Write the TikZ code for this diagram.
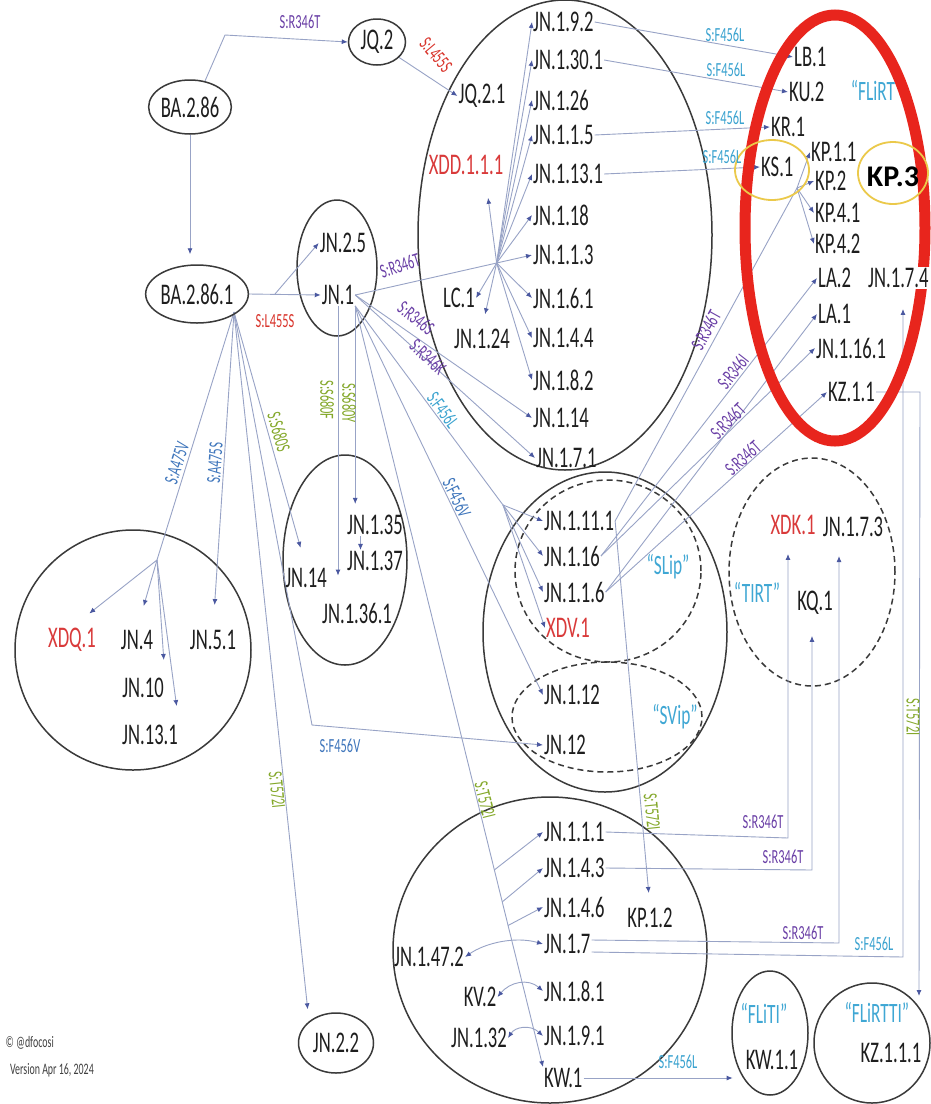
\documentclass[tikz,border=0pt]{standalone}
\usepackage{fontspec}
\newfontfamily\cf{Carlito}[FakeStretch=0.62]
\newfontfamily\kpfont{Carlito}
\usetikzlibrary{arrows.meta,calc,shapes.geometric}
\pgfdeclarelayer{bg}
\pgfdeclarelayer{mid}
\pgfsetlayers{bg,mid,main}

\definecolor{ink}{HTML}{1E1E1E}
\definecolor{ringc}{HTML}{3A3A3A}
\definecolor{linec}{HTML}{98A3C6}
\definecolor{tipc}{HTML}{4A58A0}
\definecolor{redtx}{HTML}{D93A3A}
\definecolor{cyantx}{HTML}{3FA7D4}
\definecolor{purp}{HTML}{6A3FA6}
\definecolor{mred}{HTML}{D9342B}
\definecolor{mcyan}{HTML}{3BA3D0}
\definecolor{mblue}{HTML}{3F76BC}
\definecolor{mgreen}{HTML}{84A82A}
\definecolor{flred}{HTML}{E8251D}
\definecolor{yel}{HTML}{EBC94A}

\newcommand\nfont{\cf\fontsize{30}{32}\selectfont}
\newcommand\mfont{\cf\fontsize{20}{22}\selectfont}
\newcommand\qfont{\cf\fontsize{28}{30}\selectfont}
\newcommand\crfont{\cf\fontsize{16}{18}\selectfont}

\begin{document}
\begin{tikzpicture}[x=1pt,y=-1pt,
  lab/.style={font=\nfont, text=ink, inner sep=1pt},
  wlab/.style={lab, anchor=west},
  rlab/.style={lab, text=redtx},
  qlab/.style={font=\qfont, text=cyantx, inner sep=1pt},
  mut/.style={font=\mfont, inner sep=0.5pt},
  ring/.style={draw=ringc, line width=1.5pt},
  dring/.style={ring, dash pattern=on 6pt off 4pt},
  oval/.style={ellipse, draw=ringc, line width=1.5pt, font=\nfont, text=ink, inner sep=0pt},
  conn/.style={draw=linec, line width=0.9pt, -{Latex[length=6pt,width=5pt,color=tipc]}},
  plain/.style={draw=linec, line width=0.9pt},
  both/.style={draw=linec, line width=0.9pt, {Latex[length=6pt,width=5pt,color=tipc]}-{Latex[length=6pt,width=5pt,color=tipc]}}]

\useasboundingbox (0,0) rectangle (930,1104);

% ---------- lineage labels ----------
\node[oval, minimum width=78pt, minimum height=54pt] (ba286) at (190,107) {BA.2.86};
\node[oval, minimum width=57pt, minimum height=46pt] (jq2) at (377,42) {JQ.2};
\node[oval, minimum width=88pt, minimum height=58pt] (ba2861) at (197,294) {BA.2.86.1};
\node[oval, minimum width=75pt, minimum height=60pt] (jn22) at (336,1043) {JN.2.2};

\node[lab] (jn25) at (343,243) {JN.2.5};
\node[lab] (jn1) at (338,295) {JN.1};

% JN.1 large group
\node[lab] (jq21) at (482,96) {JQ.2.1};
\node[rlab] (xdd) at (466,165) {XDD.1.1.1};
\node[lab] (lc1) at (459,298) {LC.1};
\node[lab] (jn124) at (482,339) {JN.1.24};
\node[wlab] (jn192) at (532,22) {JN.1.9.2};
\node[wlab] (jn1301) at (532,60) {JN.1.30.1};
\node[wlab] (jn126) at (532,100) {JN.1.26};
\node[wlab] (jn115) at (532,135) {JN.1.1.5};
\node[wlab] (jn1131) at (532,174) {JN.1.13.1};
\node[wlab] (jn118) at (532,215) {JN.1.18};
\node[wlab] (jn113) at (532,255) {JN.1.1.3};
\node[wlab] (jn161) at (532,298) {JN.1.6.1};
\node[wlab] (jn144) at (532,338) {JN.1.4.4};
\node[wlab] (jn182) at (532,380) {JN.1.8.2};
\node[wlab] (jn114) at (532,418) {JN.1.14};
\node[wlab] (jn171) at (535,458) {JN.1.7.1};

% FLiRT column
\node[wlab] (lb1) at (793,57) {LB.1};
\node[wlab] (ku2) at (788,92) {KU.2};
\node[qlab] (flirt) at (873,90) {“FLiRT};
\node[wlab] (kr1) at (770,127) {KR.1};
\node[wlab] (ks1) at (760,167) {KS.1};
\node[wlab] (kp11) at (810,152) {KP.1.1};
\node[wlab] (kp2) at (814,181) {KP.2};
\node[font={\kpfont\bfseries\fontsize{30}{32}\selectfont}, text=black, inner sep=1pt] (kp3) at (893,177) {KP.3};
\node[wlab] (kp41) at (814,213) {KP.4.1};
\node[wlab] (kp42) at (814,244) {KP.4.2};
\node[wlab] (la2) at (817,278) {LA.2};
\node[wlab, fill=white, inner sep=1pt] (jn174) at (867,278) {JN.1.7.4};
\node[wlab] (la1) at (817,314) {LA.1};
\node[wlab] (jn1161) at (815,348) {JN.1.16.1};
\node[wlab] (kz11) at (827,392) {KZ.1.1};

% left group
\node[rlab] (xdq1) at (72,640) {XDQ.1};
\node[lab] (jn4) at (137,640) {JN.4};
\node[lab] (jn51) at (213,640) {JN.5.1};
\node[lab] (jn10) at (143,688) {JN.10};
\node[lab] (jn131) at (150,735) {JN.13.1};

% JN.14 group
\node[lab] (jn135) at (375,525) {JN.1.35};
\node[lab] (jn137) at (375,561) {JN.1.37};
\node[lab] (jn14) at (306,578) {JN.14};
\node[lab] (jn1361) at (357,613) {JN.1.36.1};

% SLip / SVip group
\node[wlab] (jn1111) at (543,521) {JN.1.11.1};
\node[wlab] (jn116) at (543,556) {JN.1.16};
\node[wlab] (jn1d16) at (543,592) {JN.1.1.6};
\node[wlab, text=redtx] (xdv1) at (545,628) {XDV.1};
\node[qlab] (slip) at (668,567) {“SLip”};
\node[wlab] (jn1d12) at (543,695) {JN.1.12};
\node[wlab] (jn12) at (543,745) {JN.12};
\node[qlab] (svip) at (675,717) {“SVip”};

% TIRT group
\node[rlab] (xdk1) at (793,525) {XDK.1};
\node[lab] (jn173) at (853,527) {JN.1.7.3};
\node[qlab] (tirt) at (757,592) {“TIRT”};
\node[lab] (kq1) at (815,603) {KQ.1};

% bottom group
\node[wlab] (jn1d1d1) at (543,832) {JN.1.1.1};
\node[wlab] (jn143) at (543,868) {JN.1.4.3};
\node[wlab] (jn146) at (543,907) {JN.1.4.6};
\node[wlab] (jn17) at (543,944) {JN.1.7};
\node[wlab] (jn181) at (543,991) {JN.1.8.1};
\node[wlab] (jn191) at (543,1036) {JN.1.9.1};
\node[wlab] (kw1) at (543,1078) {KW.1};
\node[lab] (kp12) at (650,918) {KP.1.2};
\node[lab] (jn1472) at (429,957) {JN.1.47.2};
\node[lab] (kv2) at (480,997) {KV.2};
\node[lab] (jn132) at (479,1038) {JN.1.32};

% FLiTI / FLiRTTI
\node[qlab] (fliti) at (764,1013) {“FLiTI”};
\node[lab] (kw11) at (772,1060) {KW.1.1};
\node[qlab] (flirtti) at (877,1012) {“FLiRTTI”};
\node[lab] (kz111) at (891,1053) {KZ.1.1.1};

% credits
\node[font=\crfont, text=ink!85, anchor=east, inner sep=0pt] (cred1) at (54,1043) {© @dfocosi};
\node[font=\crfont, text=ink!85, anchor=east, inner sep=0pt] (cred2) at (94,1070) {Version Apr 16, 2024};

% ---------- mutation labels ----------
\node[mut, text=purp] (m1) at (300,22) {S:R346T};
\node[mut, text=mred, rotate=-50] (m2) at (436,55) {S:L455S};
\node[mut, text=mred] (m3) at (275,321) {S:L455S};
\node[mut, text=purp, rotate=18] (m4) at (400,266) {S:R346T};
\node[mut, text=purp, rotate=-38] (m5) at (416,318) {S:R346S};
\node[mut, text=purp, rotate=-43] (m6) at (428,357) {S:R346K};
\node[mut, text=mcyan, rotate=-53] (m7) at (443,410) {S:F456L};
\node[mut, text=mblue, rotate=-64] (m8) at (457,498) {S:F456V};
\node[mut, text=mgreen, rotate=-90] (m9) at (327,400) {S:S680F};
\node[mut, text=mgreen, rotate=-90] (m10) at (349,403) {S:S680Y};
\node[mut, text=mgreen, rotate=-74] (m11) at (279,432) {S:S680S};
\node[mut, text=mblue, rotate=72] (m12) at (177,463) {S:A475V};
\node[mut, text=mblue, rotate=86] (m13) at (215,463) {S:A475S};
\node[mut, text=mblue] (m14) at (340,746) {S:F456V};
\node[mut, text=mgreen, rotate=-84] (m15) at (277,790) {S:T572I};
\node[mut, text=mgreen, rotate=-76] (m16) at (485,800) {S:T572I};
\node[mut, text=mgreen, rotate=-84] (m17) at (652,812) {S:T572I};
\node[mut, text=mgreen, rotate=-90] (m18) at (913,717) {S:T572I};
\node[mut, text=purp] (m19) at (763,822) {S:R346T};
\node[mut, text=purp] (m20) at (783,857) {S:R346T};
\node[mut, text=purp] (m21) at (803,933) {S:R346T};
\node[mut, text=mcyan] (m22) at (874,944) {S:F456L};
\node[mut, text=mcyan] (m23) at (678,1062) {S:F456L};
\node[mut, text=mcyan] (m24) at (725,35) {S:F456L};
\node[mut, text=mcyan] (m25) at (726,70) {S:F456L};
\node[mut, text=mcyan] (m26) at (725,118) {S:F456L};
\node[mut, text=mcyan] (m27) at (722,157) {S:F456L};
\node[mut, text=purp, rotate=61] (m28) at (706,330) {S:R346T};
\node[mut, text=purp, rotate=52] (m29) at (733,372) {S:R346I};
\node[mut, text=purp, rotate=45] (m30) at (728,421) {S:R346T};
\node[mut, text=purp, rotate=42] (m31) at (743,458) {S:R346T};

% ---------- group outlines and connectors ----------
\begin{pgfonlayer}{bg}
\fill[white] (0,0) rectangle (930,1104);

\draw[ring] (337,268) ellipse [x radius=40pt, y radius=68pt];
\draw[ring] (565,235) ellipse [x radius=147pt, y radius=235pt];
\draw[ring] (133,650) ellipse [x radius=118pt, y radius=120pt];
\draw[ring] (345,560) ellipse [x radius=62pt, y radius=105pt];
\draw[ring] (605,632) ellipse [x radius=122pt, y radius=160pt];
\draw[dring] (608,571) ellipse [x radius=93pt, y radius=91pt];
\draw[dring] (607,717) ellipse [x radius=95pt, y radius=55pt];
\draw[dring] (812,572) ellipse [x radius=83pt, y radius=114pt];
\draw[ring] (550,950) ellipse [x radius=157pt, y radius=153pt];
\draw[ring] (770,1033) ellipse [x radius=38pt, y radius=62pt];
\draw[ring] (872,1043) ellipse [x radius=58pt, y radius=60pt];

% BA.2.86 and JQ.2
\draw[conn, shorten >=10pt] (ba286.south) -- (ba286.south |- ba2861.north);
\coordinate (k1) at (225,35);
\draw[conn] (ba286.60) -- (k1) -- (jq2.west);
\draw[conn] (jq2.-35) -- (jq21.west);

% BA.2.86.1 to JN.1 / JN.2.5
\coordinate (br1) at (275,294);
\draw[conn] (ba2861.east) -- (jn1.west);
\draw[conn] (br1) -- (jn25.west);

% fan below BA.2.86.1
\coordinate (fan) at (234,312);
\coordinate (bA) at (157,560);
\draw[plain] (fan) -- (bA);
\draw[conn, shorten >=22pt] (bA) -- (xdq1.north);
\draw[conn, shorten >=24pt] (bA) -- (jn4.north);
\draw[conn, shorten >=17pt] (bA) -- (jn10.north east);
\draw[conn, shorten >=18pt] (bA) -- (jn131.north east);
\draw[conn, shorten >=24pt] (fan) -- (jn51.north);
\draw[conn, shorten >=20pt] (fan) -- (jn14.north);
\coordinate (kF) at (312,725);
\draw[conn] (fan) -- (kF) -- (jn12.west);
\draw[conn, shorten >=12pt] (fan) -- (jn22.north west);

% JN.1 downwards
\draw[conn, shorten >=26pt] (jn1.south) -- (jn1.south |- jn1361.north);
\draw[conn, shorten >=10pt] (jn1.south east) -- (jn1.south east |- jn135.north);
\draw[conn] ($(jn135.south west)!0.25!(jn135.south east)$) -- ($(jn137.north west)!0.25!(jn137.north east)$);

% JN.1 into the large group through the hub
\draw[conn] (jn1.east) -- (jn113.west);
\coordinate (hub) at ($(jn1.east)!0.8!(jn113.west)$);
\foreach \t in {jn192,jn1301,jn126,jn115,jn1131,jn118,jn161,jn144,jn182}
  \draw[conn] (hub) -- (\t.west);
\draw[conn, shorten >=22pt] (hub) -- ($(xdd.south)!0.5!(xdd.south east)$);
\draw[conn] (hub) -- (lc1.east);
\draw[conn, shorten >=14pt] (hub) -- (jn124.north);
\draw[conn] (jn1.east) -- (jn114.west);
\draw[conn] (jn1.east) -- (jn171.west);

% JN.1 into SLip / SVip
\coordinate (p1) at (503,505);
\draw[plain] (jn1.south east) -- (p1);
\foreach \t in {jn1111,jn116,jn1d16,xdv1}
  \draw[conn] (p1) -- (\t.west);
\draw[conn] (jn1.south east) -- (jn1d12.west);

% JN.1 down to KW.1 with side branches
\draw[conn] (jn1.south east) -- (kw1.north west);
\coordinate (b1) at ($(jn1.south east)!0.741!(kw1.north west)$);
\coordinate (b2) at ($(jn1.south east)!0.783!(kw1.north west)$);
\coordinate (b3) at ($(jn1.south east)!0.814!(kw1.north west)$);
\draw[conn] (b1) -- (jn1d1d1.west);
\draw[conn] (b2) -- (jn143.west);
\draw[conn] (b3) -- (jn146.west);
\draw[both] (jn1472.east) .. controls (485,943) and (515,936) .. (jn17.west);
\draw[both] (kv2.east) .. controls (510,982) and (528,978) .. (jn181.west);
\draw[both] (jn132.east) .. controls (515,1027) and (530,1024) .. (jn191.west);

% F456L steps to the FLiRT column
\draw[conn] (jn192.east) -- (lb1.west);
\draw[conn] (jn1301.east) -- (ku2.west);
\draw[conn] (jn115.east) -- (kr1.west);
\draw[conn] (jn1131.east) -- (ks1.west);

% R346 steps from the SLip group
\coordinate (kh) at (797,188);
\draw[plain] (jn1111.east) -- (kh);
\foreach \t in {kp11,kp2,kp41,kp42}
  \draw[conn] (kh) -- (\t.west);
\draw[conn] (jn116.east) -- (la2.west);
\draw[conn] (jn116.east) -- (jn1161.west);
\draw[conn] (jn1d16.east) -- (la1.west);
\draw[conn] (jn1d16.east) -- (kz11.west);
\draw[conn, shorten >=14pt] (jn1111.east) -- (kp12.north);

% elbows from the bottom group
\coordinate (c111) at (788,838);
\coordinate (c143) at (812,870);
\coordinate (c173) at (839,943);
\coordinate (c174) at (903,957);
\draw[conn, shorten >=18pt] (jn1d1d1.east) -- (c111) -- (c111 |- xdk1.south);
\draw[conn, shorten >=20pt] (jn143.east) -- (c143) -- (c143 |- kq1.south);
\draw[conn, shorten >=18pt] ([yshift=4pt]jn17.east) -- (c173) -- (c173 |- jn173.south);
\draw[conn, shorten >=20pt] ([yshift=-8pt]jn17.east) -- (c174) -- (c174 |- jn174.south);
\coordinate (ckz) at (920,392);
\coordinate (kzin) at (919,996);
\draw[conn] (kz11.east) -- (ckz) -- (kzin);
\draw[conn, shorten >=12pt] (kw1.east) -- (kw1.east -| kw11.west);
\end{pgfonlayer}

% ---------- highlight rings ----------
\begin{pgfonlayer}{mid}
\draw[draw=flred, line width=11pt] (835,228) ellipse [x radius=90pt, y radius=213pt];
\draw[draw=yel, line width=1.8pt] (772,170) ellipse [x radius=37pt, y radius=30pt];
\draw[draw=yel, line width=1.8pt] (893,173) ellipse [x radius=35pt, y radius=31pt];
\end{pgfonlayer}
\end{tikzpicture}
\end{document}
